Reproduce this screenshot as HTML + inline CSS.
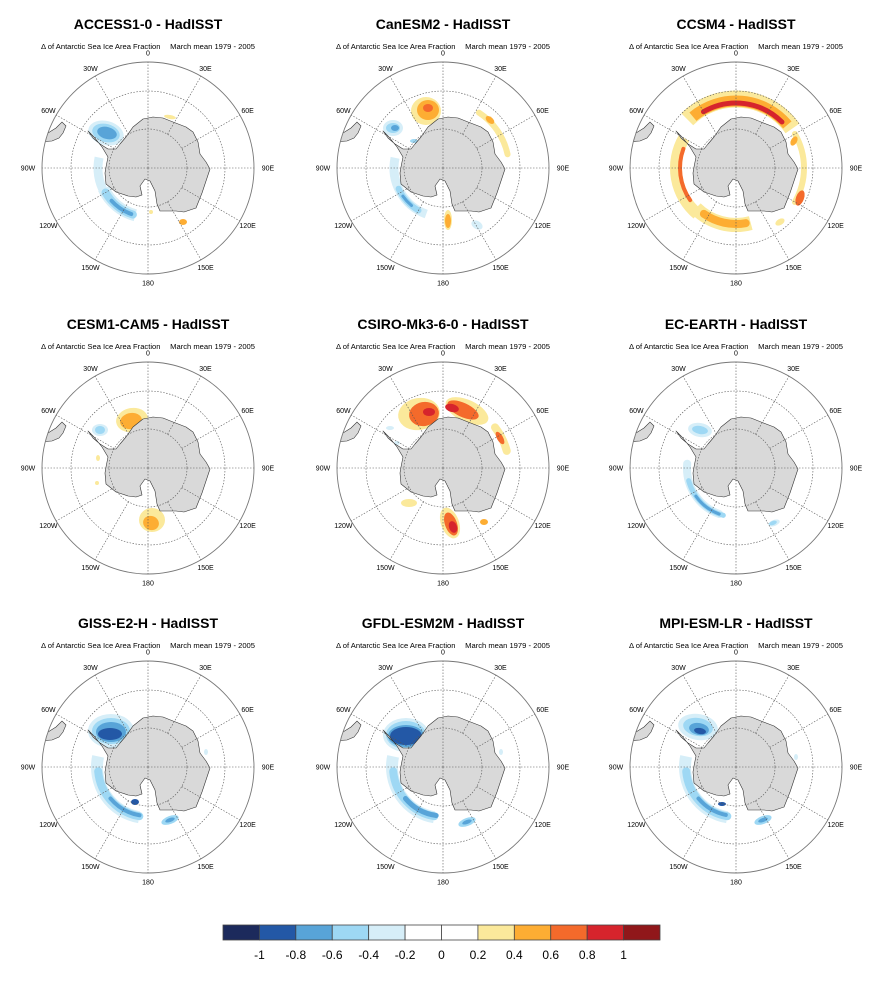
<!DOCTYPE html>
<html><head><meta charset="utf-8"><title>Antarctic Sea Ice Area Fraction</title>
<style>
html,body{margin:0;padding:0;background:#fff;}
svg{display:block;font-family:"Liberation Sans",Arial,sans-serif;}
</style></head>
<body>
<svg id="fig" width="883" height="986" viewBox="0 0 883 986" xmlns="http://www.w3.org/2000/svg"></svg>
<script>
// Colorbar data
const levelLabels = ["-1","-0.8","-0.6","-0.4","-0.2","0","0.2","0.4","0.6","0.8","1"];
const levelColors = ["#1c2a5c","#2358a6","#58a4d8","#9ed8f4","#d6eef8","#ffffff","#ffffff","#fbe99b","#fdad33","#f46a2b","#d6242c","#90171a"];
// Panel titles
const panelTitles = ["ACCESS1-0 - HadISST","CanESM2 - HadISST","CCSM4 - HadISST","CESM1-CAM5 - HadISST","CSIRO-Mk3-6-0 - HadISST","EC-EARTH - HadISST","GISS-E2-H - HadISST","GFDL-ESM2M - HadISST","MPI-ESM-LR - HadISST"];
// Anomaly features per panel: ['e',dx,dy,rx,ry,rot,colorIdx] or ['a',radius,lon0,lon1,width,colorIdx]
const panelFeatures = [
 [["e",-42,-35,18,12,15,4],["e",-42,-35,14,9,15,3],["e",-41,-35,10,6,15,2],
  ["a",50,-78,-120,9,4],["a",49,-115,-165,12,4],["a",49,-120,-162,8,3],["a",49,-132,-160,4,2],
  ["e",22,-51,6,2,10,7],["e",35,54,4,3,0,8],["e",3,44,2,2,0,7],["e",60,2,2,3,0,4]],
 [["e",-17,-57,15,14,0,7],["e",-15,-58,11,10,0,8],["e",-15,-60,5,4,0,9],
  ["e",-50,-40,10,8,0,4],["e",-50,-40,7,5,0,3],["e",-48,-40,4,3,0,2],["e",-29,-27,4,2,0,3],
  ["a",49,-78,-160,9,4],["a",49,-115,-150,6,3],["a",49,-125,-140,3,2],
  ["e",5,52,4,10,0,7],["e",5,53,3,7,0,8],["e",34,57,6,4,30,4],
  ["a",66,33,78,6,7],["e",47,-48,5,3,40,8]],
 [["a",69,-45,55,17,7],["a",67,-40,50,11,8],["a",65,-30,45,5,10],
  ["a",68,60,120,6,7],["e",64,30,4,8,20,9],["e",58,-27,3,5,30,8],
  ["a",60,-60,-140,12,7],["a",56,-70,-125,4,9],["a",57,-135,-195,14,7],["a",56,-145,-190,8,8],
  ["e",44,54,5,3,-30,7]],
 [["e",-16,-48,16,12,-10,7],["e",-17,-47,11,8,-10,8],
  ["e",-48,-38,8,6,0,4],["e",-48,-38,5,4,0,3],
  ["e",4,52,13,12,0,7],["e",3,55,8,7,20,8],["e",-50,-10,2,3,0,7],["e",-51,15,2,2,0,7]],
 [["e",-24,-54,21,16,-10,7],["e",-19,-54,15,12,-10,9],["e",-14,-56,6,4,0,10],
  ["e",24,-57,23,11,25,7],["e",20,-58,17,7,25,9],["e",9,-60,7,4,15,10],
  ["a",66,52,75,8,7],["e",57,-30,3,7,-30,9],
  ["e",7,55,9,16,-20,7],["e",8,56,6,12,-20,9],["e",10,59,4,6,-20,10],
  ["e",-34,35,8,4,0,7],["e",41,54,4,3,0,8],["e",-53,-40,4,2,0,4],["e",-46,-25,3,2,0,4]],
 [["e",-36,-38,12,7,10,4],["e",-36,-38,8,4,10,3],
  ["a",49,-85,-160,8,4],["a",49,-105,-165,5,3],["a",49,-125,-160,3,2],
  ["e",38,55,6,3,-20,4],["e",37,55,4,2,-20,3]],
 [["e",-37,-36,23,17,0,4],["e",-37,-36,19,13,0,3],["e",-37,-35,15,10,0,2],["e",-38,-33,12,6,0,1],
  ["a",51,-78,-170,12,4],["a",50,-95,-170,8,3],["a",49,-130,-170,4,2],["e",-13,35,4,3,0,1],
  ["e",22,53,9,4,-20,3],["e",22,53,5,2,-20,2],["e",58,-15,2,3,0,4]],
 [["e",-37,-32,23,17,0,4],["e",-37,-32,20,14,0,3],["e",-37,-31,18,11,0,2],["e",-37,-31,16,9,0,1],
  ["a",51,-78,-170,12,4],["a",50,-95,-170,8,3],["a",49,-130,-172,5,2],
  ["e",24,55,9,4,-20,3],["e",24,55,5,2,-20,2],["e",58,-15,2,3,0,4]],
 [["e",-38,-40,20,13,10,4],["e",-38,-40,15,9,10,3],["e",-37,-38,10,6,10,2],["e",-36,-36,6,3,10,1],
  ["a",51,-78,-170,12,4],["a",50,-95,-170,8,3],["a",49,-130,-168,4,2],["e",-14,37,4,2,0,1],
  ["e",27,53,9,4,-20,3],["e",27,53,5,2,-20,2],["e",60,-10,2,3,0,4]]
];
const continent = [[-60,-37],[-55,-30],[-48,-24],[-40,-19],[-32,-19],[-28,-24],[-22,-31],[-15,-41],[-5,-49],[5,-51],[15,-50],[25,-46],[38,-41],[45,-36],[50,-26],[52,-14],[58,-6],[62,1],[58,13],[54,25],[48,40],[36,44],[28,43],[12,43],[9,36],[7,23],[2,13],[-3,11],[-8,18],[-6,27],[-12,29],[-20,28],[-32,24],[-42,16],[-43,5],[-42,-1],[-40,-11],[-46,-21],[-54,-31]];
const samerica = [[-110,-33],[-100,-35],[-92,-40],[-86,-46],[-82,-42],[-85,-35],[-89,-30],[-96,-27],[-110,-26]];
const lonLabels = [[0,"0"],[30,"30E"],[60,"60E"],[90,"90E"],[120,"120E"],[150,"150E"],[180,"180"],[-150,"150W"],[-120,"120W"],[-90,"90W"],[-60,"60W"],[-30,"30W"]];

const NS="http://www.w3.org/2000/svg";
const svg=document.getElementById('fig');
function mk(tag,attrs,parent){const e=document.createElementNS(NS,tag);for(const k in attrs)e.setAttribute(k,attrs[k]);(parent||svg).appendChild(e);return e;}
const colX=[148,443,736], rowY=[168,468,767], R=106;
function pt(cx,cy,lon,r){const a=lon*Math.PI/180;return [cx+r*Math.sin(a),cy-r*Math.cos(a)];}

panelFeatures.forEach((feats,i)=>{
  const cx=colX[i%3], cy=rowY[Math.floor(i/3)];
  const g=mk('g',{});
  
  
  const t=mk('text',{x:cx,y:cy-139,'text-anchor':'middle','font-size':'14','font-weight':'bold',fill:'#000'},g);
  t.textContent=panelTitles[i];
  
  
  const s1=mk('text',{x:cx-107,y:cy-119,'font-size':'7.6',fill:'#000'},g);
  s1.textContent='Δ of Antarctic Sea Ice Area Fraction';
  
  
  const s2=mk('text',{x:cx+107,y:cy-119,'font-size':'7.6','text-anchor':'end',fill:'#000'},g);
  s2.textContent='March mean 1979 - 2005';
  
  
  const cp=mk('clipPath',{id:'clip'+i},g);
  mk('circle',{cx:cx,cy:cy,r:R},cp);
  const fg=mk('g',{'clip-path':'url(#clip'+i+')'},g);
  
  
  feats.forEach(f=>{
    let el;
    if(f[0]==='e'){
      el=mk('ellipse',{cx:cx+f[1],cy:cy+f[2],rx:f[3],ry:f[4],transform:`rotate(${f[5]} ${cx+f[1]} ${cy+f[2]})`,fill:levelColors[f[6]]},fg);
    } else {
      let a0=Math.min(f[2],f[3]), a1=Math.max(f[2],f[3]);
      const p0=pt(cx,cy,a0,f[1]), p1=pt(cx,cy,a1,f[1]);
      const large=(a1-a0)>180?1:0;
      el=mk('path',{d:`M${p0[0]},${p0[1]} A${f[1]},${f[1]} 0 ${large} 1 ${p1[0]},${p1[1]}`,fill:'none',stroke:levelColors[f[5]],'stroke-width':f[4],'stroke-linecap':f[4]>8?'butt':'round'},fg);
    }
    
    
  });
  const sa=mk('polygon',{points:samerica.map(p=>(cx+p[0])+','+(cy+p[1])).join(' '),fill:'#d9d9d9',stroke:'#333','stroke-width':'0.6'},fg);
  
  
  const ant=mk('polygon',{points:continent.map(p=>(cx+p[0])+','+(cy+p[1])).join(' '),fill:'#d9d9d9',stroke:'#333','stroke-width':'0.6','stroke-linejoin':'round'},g);
  
  
  [39,77].forEach(r=>{
    const c=mk('circle',{cx:cx,cy:cy,r:r,fill:'none',stroke:'#555','stroke-width':'0.6','stroke-dasharray':'1.5,1.5'},g);
    
    
  });
  lonLabels.forEach(l=>{
    const inner=(l[0]%90===0)?0:39;
    const a=pt(cx,cy,l[0],inner), b=pt(cx,cy,l[0],R);
    const ln=mk('line',{x1:a[0],y1:a[1],x2:b[0],y2:b[1],stroke:'#555','stroke-width':'0.6','stroke-dasharray':'1.5,1.5'},g);
    
    
    const lr=(Math.abs(l[0])===90)?120:115;
    const p=pt(cx,cy,l[0],lr);
    const tx=mk('text',{x:p[0],y:p[1]+2.5,'text-anchor':'middle','font-size':'7',fill:'#000'},g);
    tx.textContent=l[1];
    
    
  });
  const oc=mk('circle',{cx:cx,cy:cy,r:R,fill:'none',stroke:'#777','stroke-width':'0.9'},g);
  
  
});

// colorbar
const cb=mk('g',{});


const cbX0=223, cbX1=660, cbY=925, cbH=15, bw=(cbX1-cbX0)/levelColors.length;
levelColors.forEach((c,k)=>{
  const r=mk('rect',{x:cbX0+k*bw,y:cbY,width:bw,height:cbH,fill:c,stroke:'#444','stroke-width':'0.8'},cb);
  
  
});
levelLabels.forEach((lab,k)=>{
  const t=mk('text',{x:cbX0+(k+1)*bw,y:cbY+cbH+19,'text-anchor':'middle','font-size':'12',fill:'#000'},cb);
  t.textContent=lab;
  
  
});
</script>
</body></html>
